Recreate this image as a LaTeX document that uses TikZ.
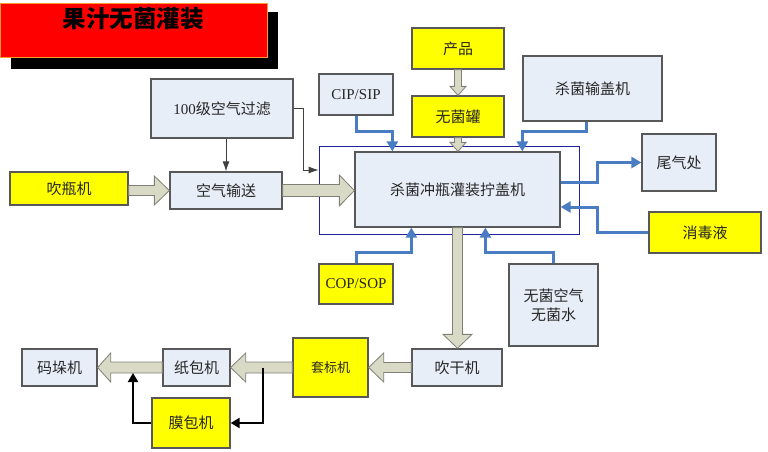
\documentclass[tikz,border=0pt]{standalone}
\usepackage{fontspec}
\setmainfont{Liberation Serif}
\newfontfamily\cjk{Noto Sans CJK SC}
\usetikzlibrary{calc,arrows.meta}
\definecolor{boxfill}{HTML}{E8EEF8}
\definecolor{boxline}{HTML}{585858}
\definecolor{ylw}{HTML}{FFFF00}
\definecolor{fatfill}{HTML}{D8DAC6}
\definecolor{fatline}{HTML}{808078}
\definecolor{blueln}{HTML}{4A7CC4}
\definecolor{navyln}{HTML}{2020A0}
\definecolor{titlered}{HTML}{FF0000}
\definecolor{titleedge}{HTML}{FF9933}
% fat arrows: #1 start, #2 tip, #3 body half, #4 head half, #5 head length
\newcommand\fatR[5]{\draw[fat] let \p1=(#1), \p2=(#2) in
  (\x1,\y2+#3) -- (\x2-#5,\y2+#3) -- (\x2-#5,\y2+#4) -- (\x2,\y2) -- (\x2-#5,\y2-#4) -- (\x2-#5,\y2-#3) -- (\x1,\y2-#3) -- cycle;}
\newcommand\fatL[5]{\draw[fat] let \p1=(#1), \p2=(#2) in
  (\x1,\y2+#3) -- (\x2+#5,\y2+#3) -- (\x2+#5,\y2+#4) -- (\x2,\y2) -- (\x2+#5,\y2-#4) -- (\x2+#5,\y2-#3) -- (\x1,\y2-#3) -- cycle;}
\newcommand\fatD[5]{\draw[fat] let \p1=(#1), \p2=(#2) in
  (\x2-#3,\y1) -- (\x2-#3,\y2+#5) -- (\x2-#4,\y2+#5) -- (\x2,\y2) -- (\x2+#4,\y2+#5) -- (\x2+#3,\y2+#5) -- (\x2+#3,\y1) -- cycle;}
\begin{document}
\begin{tikzpicture}[x=1pt,y=-1pt,
  box/.style={draw=boxline,line width=1.3pt,fill=boxfill,inner sep=0pt,
    font=\cjk\fontsize{15}{19}\selectfont,text=black!85,align=center},
  ybox/.style={box,fill=ylw},
  fat/.style={draw=fatline,line width=0.8pt,fill=fatfill,line join=miter},
  blu/.style={draw=blueln,line width=3pt,-{Triangle[length=10pt,width=11pt]}},
  blkone/.style={draw=black!75,line width=0.9pt,-{Latex[length=10pt,width=7pt]}},
  blktwo/.style={draw=black,line width=2pt,-{Triangle[length=9pt,width=10pt]}}
]
\useasboundingbox (0,0) rectangle (768,452);
\fill[white] (0,0) rectangle (768,452);

% title
\fill[black] (11,12) rectangle (278,69);
\node[draw=titleedge,line width=0.8pt,fill=titlered,minimum width=267pt,minimum height=54pt,inner sep=0pt] (titlebox) at (133.5,30) {};
\node[font=\cjk\bfseries\fontsize{23.5}{26}\selectfont,text=black,inner sep=0pt] (title) at (133,19) {果汁无菌灌装};

% outer frame
\node[draw=navyln,line width=0.8pt,minimum width=260pt,minimum height=88pt,inner sep=0pt] (outer) at (449,190) {};

% boxes
\node[ybox,minimum width=118pt,minimum height=33pt] (blow) at (69,188.5) {吹瓶机};
\node[box,minimum width=112pt,minimum height=37pt] (kq) at (226,190.5) {空气输送};
\node[box,minimum width=142pt,minimum height=59pt] (filter) at (222,108.5) {{\rmfamily 100}级空气过滤};
\node[box,minimum width=74pt,minimum height=41pt,font=\rmfamily\fontsize{15}{18}\selectfont] (cip) at (356,94.5) {CIP/SIP};
\node[ybox,minimum width=92pt,minimum height=41pt] (prod) at (458,48.5) {产品};
\node[ybox,minimum width=92pt,minimum height=41pt] (tank) at (458,116.5) {无菌罐};
\node[box,minimum width=139pt,minimum height=65pt] (gai) at (592.5,88.5) {杀菌输盖机};
\node[box,minimum width=205pt,minimum height=75pt] (main) at (457.5,189.5) {杀菌冲瓶灌装拧盖机};
\node[box,minimum width=74pt,minimum height=57pt] (tail) at (679,162.5) {尾气处};
\node[ybox,minimum width=112pt,minimum height=41pt] (xdy) at (705,232.5) {消毒液};
\node[ybox,minimum width=74pt,minimum height=40pt,font=\rmfamily\fontsize{15}{18}\selectfont] (cop) at (356,284) {COP/SOP};
\node[box,minimum width=89pt,minimum height=82pt] (air) at (553.5,305) {无菌空气\\无菌水};
\node[box,minimum width=90pt,minimum height=37pt] (dry) at (457,367.5) {吹干机};
\node[ybox,minimum width=75pt,minimum height=59pt,font=\cjk\fontsize{13}{16}\selectfont] (label) at (330.5,367.5) {套标机};
\node[box,minimum width=67pt,minimum height=37pt] (paper) at (196.5,367.5) {纸包机};
\node[box,minimum width=75pt,minimum height=37pt] (stack) at (59.5,367.5) {码垛机};
\node[ybox,minimum width=78pt,minimum height=50pt] (film) at (191,423) {膜包机};

% fat arrows
\fatR{blow.east}{kq.west}{5pt}{14.5pt}{15pt}
\fatR{kq.east}{kq.east -| main.west}{6pt}{15.5pt}{15pt}
\fatD{prod.south}{tank.north}{3.5pt}{8pt}{9pt}
\fatD{tank.south}{tank.south |- main.north}{3.5pt}{8pt}{9pt}
\fatD{main.south}{main.south |- dry.north}{5pt}{14.5pt}{14pt}
\fatL{dry.west}{label.east}{5pt}{14.5pt}{15pt}
\fatL{label.west}{paper.east}{5.5pt}{14.5pt}{15pt}
\fatL{paper.west}{stack.east}{5.5pt}{14.5pt}{13pt}

% blue connectors
\draw[blu] (cip.south) |- ($(main.north west)+(38,-20)$) -- ($(main.north west)+(38,0)$);
\draw[blu] ($(gai.south)+(-6,0)$) |- ($(main.north west)+(168,-20)$) -- ($(main.north west)+(168,0)$);
\draw[blu] ($(main.east)+(0,-7.5)$) -- ++(37,0) |- (tail.west);
\draw[blu] (xdy.west) -| ($(main.east)+(37,17.5)$) -- ($(main.east)+(0,17.5)$);
\draw[blu] (cop.north) |- ($(main.south west)+(57,25)$) -- ($(main.south west)+(57,0)$);
\draw[blu] (air.north) |- ($(main.south west)+(131,25)$) -- ($(main.south west)+(131,0)$);

% thin black connectors
\draw[blkone] (filter.south -| kq.north) -- (kq.north);
\draw[blkone] (filter.east) -- ++(10,0) |- ($(outer.west)+(0,-20)$);

% bottom black connectors
\coordinate (j1) at (263,367.5);
\coordinate (j2) at (133,373);
\draw[blktwo] (j1) |- (film.east);
\draw[blktwo] (film.west) -| (j2);
\end{tikzpicture}
\end{document}
